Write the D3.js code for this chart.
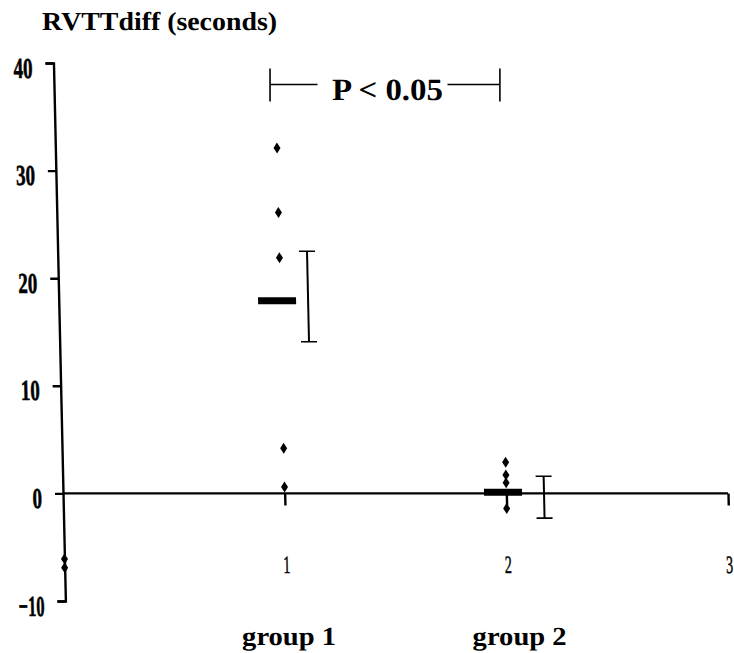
<!DOCTYPE html>
<html>
<head>
<meta charset="utf-8">
<script src="https://cdn.jsdelivr.net/npm/d3@7"></script>
<style>
  body { margin: 0; background: #fff; }
  svg { display: block; }
  .axis path, .axis line { stroke: #000; stroke-width: 2.4; }
  .axis text { fill: #000; font-family: "Liberation Serif", "Times New Roman", Times, serif; }
  text { font-family: "Liberation Serif", "Times New Roman", Times, serif; text-rendering: geometricPrecision; }
</style>
</head>
<body>
<svg id="chart"></svg>
<script>
// values
const groups = ["group 1", "group 2"];
const groupLabelX = [1.02, 2.06];
const ptsX = [0, 0, 1, 1, 1, 1, 1, 2, 2, 2, 2];
const ptsY = [-6.1, -6.9, 32.1, 26.1, 21.9, 4.2, 0.6, 2.9, 1.7, 1.0, -1.4];
const meanX = [0.985, 1.985];
const means = [17.9, 0.1];
const errX = [1.125, 2.17];
const errHi = [22.5, 1.6];
const errLo = [14.1, -2.3];
const yTicks = [-10, 0, 10, 20, 30, 40];
const xTicks = [1, 2, 3];
const bracketX = [0.934, 1.971];
const bracketY = 38;

const width = 734, height = 653;

const svg = d3.select('#chart')
  .attr('width', width)
  .attr('height', height);

const x = d3.scaleLinear().domain([0, 3]).range([63, 728]);
const y = d3.scaleLinear().domain([-10, 40]).range([601, 63]);
const y0 = y(0);

// the scan is slightly sheared, so the plot group is skewed a little
const g = svg.append('g')
  .attr('transform', `translate(0,${y0}) skewX(1.27) translate(0,${-y0})`);

// y axis
const yAxis = g.append('g')
  .attr('class', 'axis')
  .attr('transform', `translate(${x(0)},0)`)
  .call(d3.axisLeft(y).tickValues(yTicks).tickFormat(d3.format('d')).tickSize(8).tickSizeOuter(8));
yAxis.selectAll('text')
  .attr('x', -21)
  .attr('dy', 14)
  .attr('font-size', 29)
  .attr('font-weight', 'bold')
  .attr('stroke', '#000')
  .attr('stroke-width', 0.6)
  .attr('lengthAdjust', 'spacingAndGlyphs')
  .attr('textLength', d => String(d).replace('-', '').length * 9.5 + (d < 0 ? 7 : 0));

// x axis
const xAxis = g.append('g')
  .attr('class', 'axis')
  .attr('transform', `translate(0,${y0})`)
  .call(d3.axisBottom(x).tickValues(xTicks).tickFormat(d3.format('d')).tickSize(12).tickSizeOuter(0));
xAxis.select('.domain').attr('d', `M${x(0)},0H${x(3)}`);
xAxis.selectAll('.tick line').attr('stroke-width', 1.8);
xAxis.selectAll('text')
  .attr('y', 80)
  .attr('dy', 0)
  .attr('font-size', 25)
  .attr('stroke', '#000')
  .attr('stroke-width', 0.5)
  .attr('text-anchor', d => d === 3 ? 'end' : 'middle')
  .attr('x', d => d === 3 ? 3 : 0)
  .attr('lengthAdjust', 'spacingAndGlyphs')
  .attr('textLength', 7);

// individual points (diamonds)
const diamond = 'M0,-5.5L3.5,0L0,5.5L-3.5,0Z';
g.selectAll('.pt')
  .data(ptsY.map((v, i) => ({ x: ptsX[i], y: v })))
  .enter()
  .append('path')
  .attr('class', 'pt')
  .attr('d', diamond)
  .attr('transform', d => `translate(${x(d.x)},${y(d.y)})`)
  .attr('fill', '#000');

// mean bars
g.selectAll('.mean')
  .data(means)
  .enter()
  .append('rect')
  .attr('class', 'mean')
  .attr('x', (d, i) => x(meanX[i]) - 19)
  .attr('y', d => y(d) - 3.5)
  .attr('width', 38)
  .attr('height', 7)
  .attr('fill', '#000');

// error bars
const eb = g.selectAll('.err')
  .data(means)
  .enter()
  .append('g')
  .attr('class', 'err')
  .attr('stroke', '#000');
eb.append('line')
  .attr('x1', (d, i) => x(errX[i])).attr('x2', (d, i) => x(errX[i]))
  .attr('y1', (d, i) => y(errHi[i])).attr('y2', (d, i) => y(errLo[i]))
  .attr('stroke-width', 2);
eb.append('line')
  .attr('x1', (d, i) => x(errX[i]) - 8).attr('x2', (d, i) => x(errX[i]) + 8)
  .attr('y1', (d, i) => y(errHi[i])).attr('y2', (d, i) => y(errHi[i]))
  .attr('stroke-width', 1.6);
eb.append('line')
  .attr('x1', (d, i) => x(errX[i]) - 8).attr('x2', (d, i) => x(errX[i]) + 8)
  .attr('y1', (d, i) => y(errLo[i])).attr('y2', (d, i) => y(errLo[i]))
  .attr('stroke-width', 1.6);

// title
svg.append('text')
  .attr('x', 42)
  .attr('y', 30)
  .attr('font-weight', 'bold')
  .attr('font-size', 26)
  .attr('lengthAdjust', 'spacingAndGlyphs')
  .attr('textLength', 235)
  .text('RVTTdiff (seconds)');

// significance bracket
const bx1 = x(bracketX[0]), bx2 = x(bracketX[1]), by = y(bracketY);
const tc = (bx1 + bx2) / 2 + 2.5;
const br = svg.append('g').attr('stroke', '#000').attr('stroke-width', 1.6);
br.append('line').attr('x1', bx1).attr('x2', bx1).attr('y1', by - 16).attr('y2', by + 17);
br.append('line').attr('x1', bx2).attr('x2', bx2).attr('y1', by - 16).attr('y2', by + 17);
br.append('line').attr('x1', bx1).attr('x2', tc - 70).attr('y1', by).attr('y2', by);
br.append('line').attr('x1', tc + 60).attr('x2', bx2).attr('y1', by).attr('y2', by);
svg.append('text')
  .attr('x', tc)
  .attr('y', by + 15)
  .attr('text-anchor', 'middle')
  .attr('font-weight', 'bold')
  .attr('font-size', 31)
  .attr('lengthAdjust', 'spacingAndGlyphs')
  .attr('textLength', 111)
  .text('P < 0.05');

// group labels
svg.selectAll('.glabel')
  .data(groups)
  .enter()
  .append('text')
  .attr('class', 'glabel')
  .attr('x', (d, i) => x(groupLabelX[i]))
  .attr('y', 645)
  .attr('text-anchor', 'middle')
  .attr('font-weight', 'bold')
  .attr('font-size', 26)
  .attr('lengthAdjust', 'spacingAndGlyphs')
  .attr('textLength', 94)
  .text(d => d);
</script>
</body>
</html>
